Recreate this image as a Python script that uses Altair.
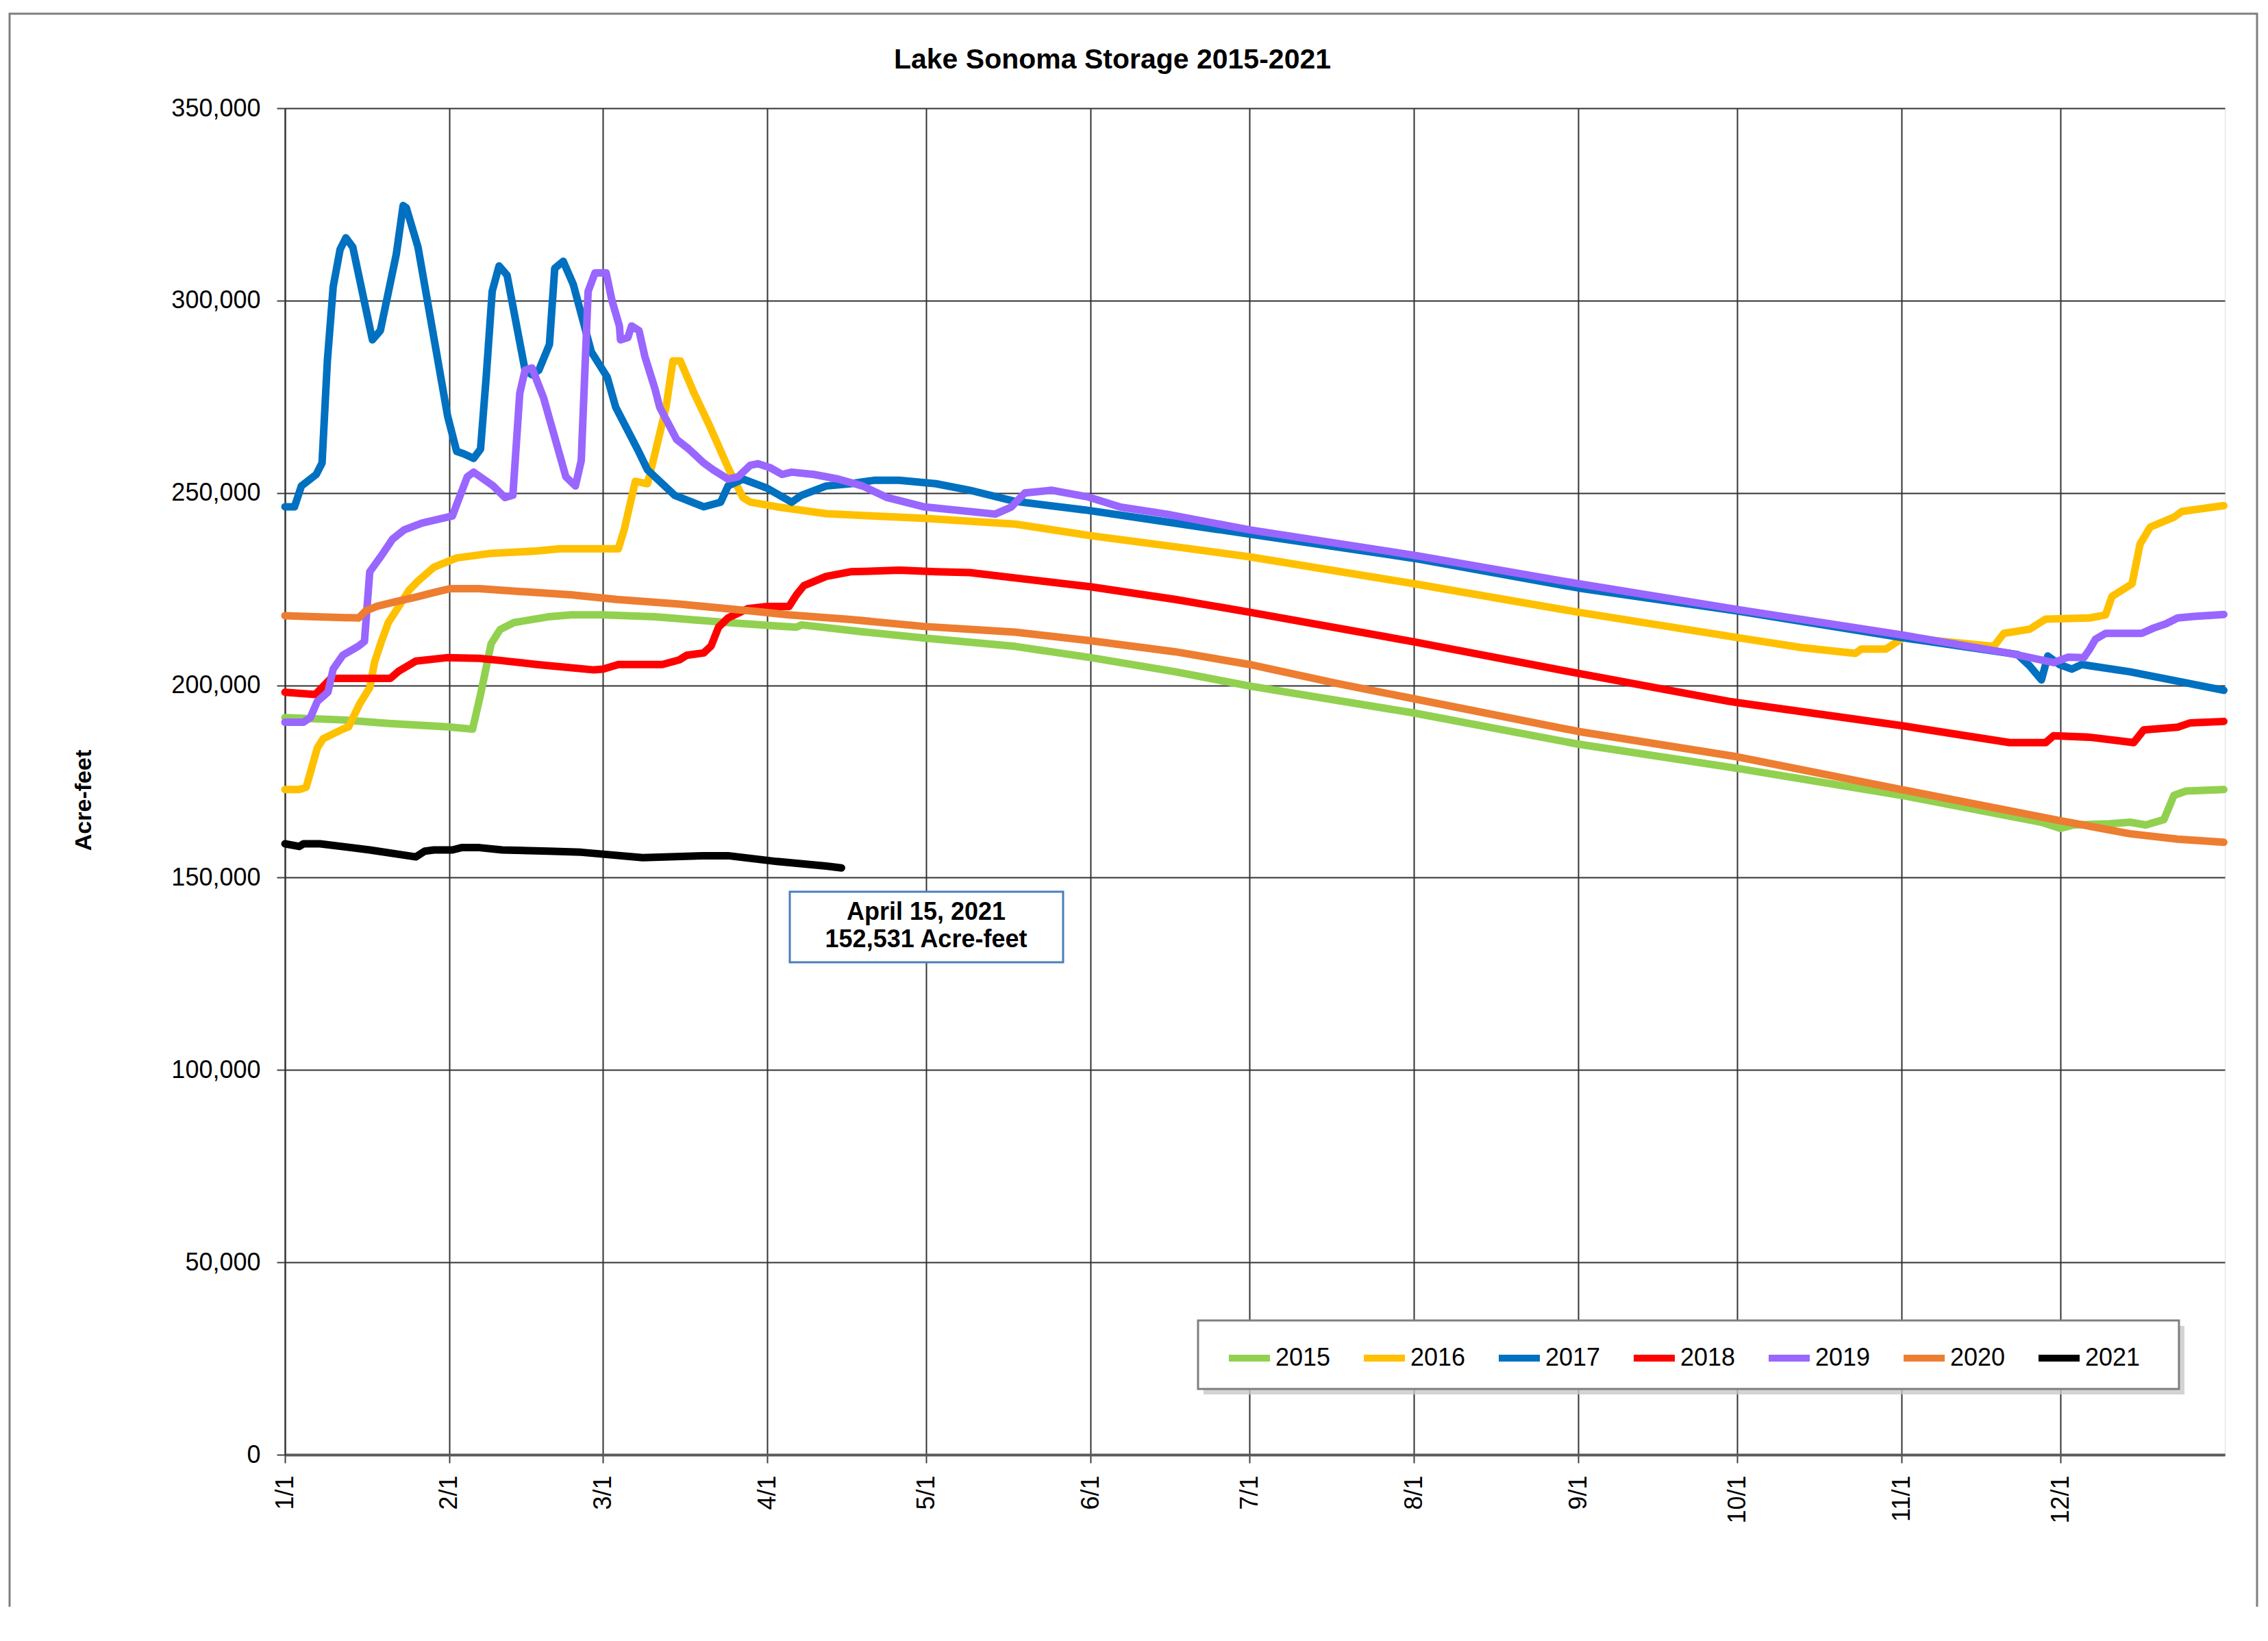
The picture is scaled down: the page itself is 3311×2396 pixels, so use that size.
import altair as alt
import pandas as pd

YEARS = ["2015", "2016", "2017", "2018", "2019", "2020", "2021"]
COLORS = ["#92D050", "#FFC000", "#0070C0", "#FF0000", "#9966FF", "#ED7D31", "#000000"]

# day index within a (leap) year: 1/1 = 0, 2/1 = 31, 3/1 = 60 ...
MONTH_DAYS = [0, 31, 60, 91, 121, 152, 182, 213, 244, 274, 305, 335]
MONTH_LABELS = ["1/1", "2/1", "3/1", "4/1", "5/1", "6/1", "7/1", "8/1", "9/1", "10/1", "11/1", "12/1"]
Y_TICKS = [0, 50000, 100000, 150000, 200000, 250000, 300000, 350000]

D2015 = [0, 10.9, 19.5, 30.7, 35.4, 36.9, 38.9, 40.6, 43.2, 49.7, 54, 60, 69.8, 83.6, 92.8, 96.5, 97.5, 109,
         120.5, 137.8, 152, 168, 182, 213, 244, 274, 305, 331.4, 335, 337.5, 344.3, 348.1, 351.1, 354.5,
         356.4, 358.7, 365.8]
V2015 = [191600, 191000, 190100, 189200, 188600, 197600, 210800, 214500, 216300, 217800, 218300, 218300,
         217800, 216300, 215400, 215100, 215700, 213900, 212300, 210100, 207200, 203500, 199800, 192800,
         184700, 178400, 171400, 164400, 162800, 163700, 164000, 164400, 163700, 165100, 171400, 172500, 172900]

D2016 = [0, 2.7, 4, 6.1, 7.2, 10.9, 12, 14.1, 16, 16.9, 18.2, 19.5, 21.2, 23.4, 25.1, 28.1, 32.4, 38.9, 47.5,
         51.8, 60, 62.9, 64, 66.1, 68.4, 69.8, 71.9, 73.2, 74.6, 77.2, 79.9, 83.6, 86.4, 87.8, 92.8, 102.1,
         111.3, 120.5, 137.8, 152, 168, 182, 213, 244, 274, 286.1, 296.3, 297.4, 302, 305.4, 322.4, 324.3,
         329.2, 332.2, 340.5, 343.5, 344.7, 348.5, 350, 351.9, 356.4, 357.9, 365.8]
V2016 = [172900, 172900, 173500, 183700, 186100, 188600, 189200, 195200, 199400, 206000, 211400, 216300,
         219900, 224700, 227100, 230700, 233100, 234300, 234900, 235500, 235500, 235500, 240400, 253000,
         252400, 260200, 272300, 284300, 284300, 275900, 268100, 256600, 248800, 247600, 246400, 244600,
         244000, 243400, 241900, 238900, 236000, 233400, 226400, 219000, 212400, 209800, 208300, 209400,
         209400, 212400, 210100, 213500, 214600, 217200, 217500, 218300, 223100, 226400, 236700, 241100,
         243700, 245200, 246700]

D2017 = [0, 1.8, 3.1, 5.9, 7, 8, 9.1, 10.4, 11.5, 12.8, 16.5, 18, 21, 22.3, 22.9, 25.1, 30.7, 32.4, 33.7,
         35.6, 36.9, 38, 39.1, 40.4, 41.9, 45.3, 46.6, 47.9, 49.9, 50.9, 52.5, 54.4, 57.8, 60.8, 62.4, 66.5,
         68.4, 73.5, 79, 82.2, 83.6, 86.4, 91, 95.6, 97.5, 102.1, 106.7, 111.3, 115.9, 122.8, 129.2, 137.8,
         150.8, 163.7, 182, 213, 244, 274, 305, 326.9, 329.2, 331.4, 332.6, 334.8, 337.1, 339, 348.1, 365.8]
V2017 = [246400, 246400, 251800, 254800, 257800, 284300, 303600, 313300, 316300, 313900, 289800, 292200,
         312000, 324700, 324100, 313900, 269900, 260800, 260200, 259000, 261400, 280700, 302400, 309000,
         306600, 281900, 280700, 281900, 288600, 308400, 310200, 304200, 286700, 280100, 272300, 261400,
         256000, 249400, 246400, 247600, 251800, 253600, 251200, 247600, 249400, 251800, 252400, 253300,
         253300, 252400, 250700, 247800, 245600, 243000, 239300, 233000, 225300, 219300, 212400, 208000,
         205000, 201400, 207600, 205400, 204200, 205400, 203500, 198700]

D2018 = [0, 5.7, 7, 8.7, 19.9, 21.4, 24.7, 30.7, 36.7, 41, 47.5, 58.3, 60, 62.9, 71.2, 74.4, 75.8, 79, 80.4,
         81.8, 83.6, 87.3, 91, 95.1, 96.5, 97.9, 102.1, 106.7, 115.9, 122.8, 129.2, 137.8, 152, 168, 182, 213,
         244, 272.5, 305, 325.4, 332.2, 333.7, 340.5, 348.8, 350.7, 357.1, 359.4, 365.8]
V2018 = [198200, 197600, 199400, 201800, 201800, 203600, 206300, 207200, 207000, 206400, 205400, 204000,
         204200, 205400, 205400, 206600, 207800, 208400, 210200, 215100, 217500, 219900, 220500, 220500,
         223500, 225900, 228300, 229500, 229900, 229500, 229300, 227900, 225600, 222300, 219000, 211300,
         203100, 195800, 189500, 185100, 185100, 186900, 186500, 185100, 188400, 189100, 190200, 190600]

D2019 = [0, 3.5, 4.8, 6.1, 8.1, 9.1, 10.9, 13.9, 15, 16, 18.2, 20.3, 22.5, 25.9, 31.6, 32.4, 34.4, 35.6, 39.3,
         41.5, 43, 44.3, 45.3, 46.6, 48.8, 53, 54.8, 55.9, 57.2, 58.5, 60.6, 61.7, 63.1, 63.3, 64.7, 65.4, 66.8,
         67.9, 69.8, 70.7, 73.9, 76.2, 79, 80.8, 83.6, 85.5, 87.8, 89.2, 91.5, 93.8, 95.6, 99.8, 104.4, 109,
         113.6, 120.5, 134, 137, 139.6, 144.7, 151.7, 157.7, 166.3, 182, 213, 244, 274, 305, 325.4, 333.7,
         336.4, 339.4, 340.5, 341.6, 343.5, 350.3, 352.6, 354.9, 357.1, 360.2, 365.8]
V2019 = [190400, 190400, 191600, 195800, 198200, 204200, 207800, 210200, 211400, 229500, 233700, 238000,
         240400, 242200, 244000, 247000, 254200, 255400, 251800, 248800, 249400, 275900, 281900, 282500,
         274700, 254200, 251800, 258400, 302400, 307200, 307200, 300000, 293400, 289800, 290400, 293400,
         292200, 285500, 277100, 272300, 263900, 261400, 257800, 256000, 253600, 254200, 257200, 257600,
         256600, 254800, 255400, 254800, 253600, 251800, 248800, 246400, 244500, 246300, 250000, 250700,
         248900, 246300, 244500, 240400, 233800, 226400, 219700, 213100, 208300, 205900, 207300, 207200,
         209400, 212000, 213500, 213500, 214900, 216000, 217500, 217900, 218400]

D2020 = [0, 5.7, 13.9, 15.2, 17.3, 20.8, 24.7, 28.1, 31.1, 36.7, 45.3, 54, 62.6, 74.4, 88.2, 95.1, 106.7,
         120.5, 137.8, 152, 168, 182, 198, 213, 244, 274, 305, 335, 348.1, 357.1, 365.8]
V2020 = [218100, 217800, 217500, 219300, 220500, 221700, 222900, 224100, 225100, 225100, 224300, 223500,
         222300, 221100, 219300, 218300, 217100, 215300, 213800, 211600, 208700, 205400, 200600, 196500,
         188000, 181400, 172900, 164800, 161400, 160000, 159200]

D2021 = [0, 2.7, 3.5, 6.6, 16, 24.7, 26.4, 28.1, 31.6, 33.3, 36.7, 41, 49.7, 55.9, 67.5, 79, 83.6, 92.8,
         102.1, 105]
V2021 = [158800, 158100, 158800, 158800, 157200, 155400, 156900, 157200, 157200, 157800, 157800, 157200,
         156900, 156600, 155200, 155700, 155700, 154200, 153000, 152531]

ANNOT_LINES = ["April 15, 2021", "152,531 Acre-feet"]
TITLE = "Lake Sonoma Storage 2015-2021"
Y_TITLE = "Acre-feet"

SERIES = {
    "2015": (D2015, V2015), "2016": (D2016, V2016), "2017": (D2017, V2017),
    "2018": (D2018, V2018), "2019": (D2019, V2019), "2020": (D2020, V2020),
    "2021": (D2021, V2021),
}

rows = []
for yr in YEARS:
    days, vals = SERIES[yr]
    for d, v in zip(days, vals):
        rows.append({"year": yr, "day": d, "storage": v})
df = pd.DataFrame(rows)
one = pd.DataFrame({"k": [0]})

FONT = "Liberation Sans"
W, H = 2832, 1966

label_expr = ("[" + ",".join("'%s'" % s for s in MONTH_LABELS) + "][indexof(["
              + ",".join(str(d) for d in MONTH_DAYS) + "], datum.value)]")

x_enc = alt.X("day:Q",
              scale=alt.Scale(domain=[0, 366], nice=False, zero=False),
              axis=alt.Axis(values=MONTH_DAYS, labelExpr=label_expr, labelAngle=270, title=None,
                            labelFont=FONT, labelFontSize=36, labelColor="#000000",
                            labelPadding=18, tickSize=12, tickColor="#404040", tickWidth=2,
                            grid=True, gridColor="#333333", gridWidth=2,
                            domainColor="#595959", domainWidth=4, labelOverlap=False))
y_enc = alt.Y("storage:Q",
              scale=alt.Scale(domain=[0, 350000], nice=False),
              axis=alt.Axis(values=Y_TICKS, format=",d", title=Y_TITLE,
                            labelFont=FONT, labelFontSize=36, labelColor="#000000",
                            labelPadding=24, tickSize=12, tickColor="#404040", tickWidth=2,
                            grid=True, gridColor="#333333", gridWidth=2,
                            domainColor="#333333", domainWidth=2,
                            titleFont=FONT, titleFontSize=34, titleFontWeight="bold",
                            titleColor="#000000", titleAngle=270, titleX=-294, titleY=1010,
                            titleAlign="center", titleBaseline="middle"))
color_enc = alt.Color("year:N",
                      scale=alt.Scale(domain=YEARS, range=COLORS),
                      legend=alt.Legend(title=None, orient="none", legendX=1373, legendY=1790,
                                        direction="horizontal", columns=7, symbolType="stroke",
                                        symbolSize=3600, symbolStrokeWidth=10, labelFont=FONT,
                                        labelFontSize=36, labelColor="#000000", labelOffset=3,
                                        columnPadding=28, padding=0))

border = alt.Chart(one).mark_rect(fillOpacity=0, stroke="#7F7F7F", strokeWidth=3).encode(
    x=alt.value(-402), x2=alt.value(2879), y=alt.value(-138), y2=alt.value(2300))
shadow = alt.Chart(one).mark_rect(fill="#C8C8C8", opacity=0.8).encode(
    x=alt.value(1341), x2=alt.value(2773), y=alt.value(1778), y2=alt.value(1878))
legend_box = alt.Chart(one).mark_rect(fill="#FFFFFF", stroke="#7F7F7F", strokeWidth=3).encode(
    x=alt.value(1333), x2=alt.value(2765), y=alt.value(1770), y2=alt.value(1870))
annot_box = alt.Chart(one).mark_rect(fill="#FFFFFF", stroke="#4A7EBB", strokeWidth=3).encode(
    x=alt.value(737), x2=alt.value(1136), y=alt.value(1144), y2=alt.value(1247))
annot1 = alt.Chart(one).mark_text(font=FONT, fontSize=36, fontWeight="bold", color="#000000",
                                  align="center", baseline="middle").encode(
    x=alt.value(936), y=alt.value(1174), text=alt.value(ANNOT_LINES[0]))
annot2 = alt.Chart(one).mark_text(font=FONT, fontSize=36, fontWeight="bold", color="#000000",
                                  align="center", baseline="middle").encode(
    x=alt.value(936), y=alt.value(1214), text=alt.value(ANNOT_LINES[1]))

lines = []
for yr in YEARS:
    lines.append(
        alt.Chart(df).transform_filter(alt.datum.year == yr)
        .mark_line(strokeWidth=11, strokeCap="round", strokeJoin="round")
        .encode(x=x_enc, y=y_enc, color=color_enc, order=alt.Order("day:Q"))
    )

chart = alt.layer(border, shadow, legend_box, *lines, annot_box, annot1, annot2).properties(
    width=W, height=H,
    title=alt.TitleParams(TITLE, font=FONT, fontSize=41, fontWeight="bold", color="#000000",
                          anchor="middle", frame="group", dx=-208, offset=-122, baseline="alphabetic"),
    padding={"left": 408, "top": 150, "right": 52, "bottom": 222},
    autosize=alt.AutoSizeParams(type="none"),
).configure_view(stroke="#333333", strokeWidth=2).configure(background="#FFFFFF")

chart.save("out.html", embed_options={"renderer": "svg", "actions": False})
